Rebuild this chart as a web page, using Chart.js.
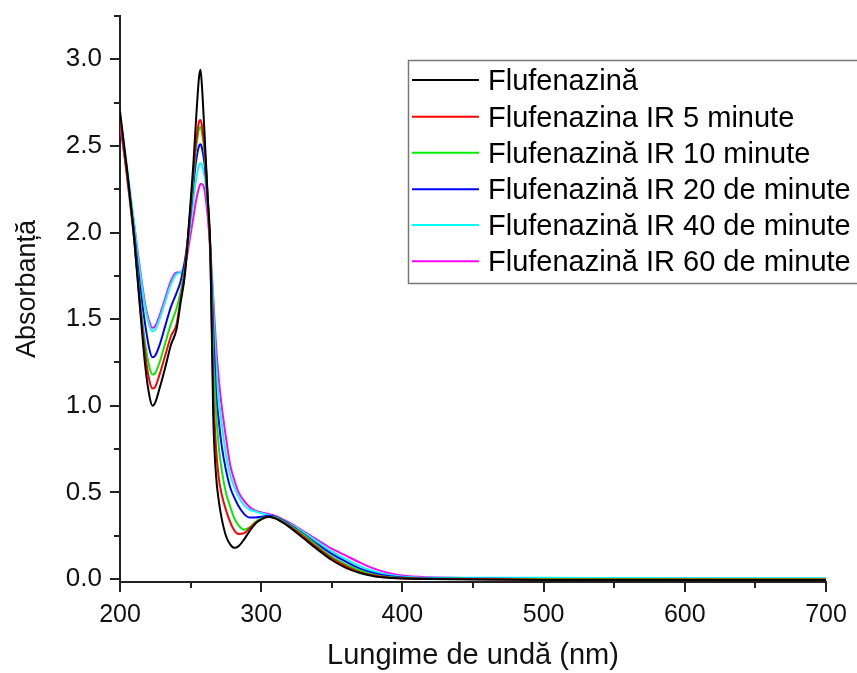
<!DOCTYPE html>
<html>
<head>
<meta charset="utf-8">
<script src="https://cdn.jsdelivr.net/npm/chart.js@4/dist/chart.umd.min.js"></script>
<style>
html,body{margin:0;padding:0;background:#fff;}
#wrap{width:857px;height:673px;position:relative;}
</style>
</head>
<body>
<div id="wrap"><canvas id="c" width="857" height="673"></canvas></div>
<script>
const wavelengths = [200,205,210,214,218,221,223,225,228,232,236,240,243,246,249,252,254,256,257,258,260,262,264,266,268,270,272,275,278,281,284,288,292,296,300,305,310,320,330,340,350,360,370,380,390,400,420,450,500,550,600,650,700];

const absFlufenazina = [2.70,2.36,1.97,1.58,1.22, 1.05,1.00,1.02,1.10,1.22, 1.35,1.44,1.60,1.76,2.07, 2.40,2.67,2.90,2.94,2.85, 2.55,2.22,1.90,0.95,0.60, 0.45,0.35,0.25,0.20,0.18, 0.19,0.23,0.28,0.32,0.345, 0.36,0.35,0.30,0.235,0.17, 0.11,0.065,0.035,0.016,0.007, 0.003,0.0,-0.003,-0.005,-0.005, -0.005,-0.005,-0.005];
const absIR5 = [2.66,2.32,1.96,1.60,1.29, 1.14,1.10,1.11,1.18,1.29, 1.40,1.47,1.62,1.78,2.05, 2.35,2.53,2.64,2.65,2.62, 2.48,2.22,1.85,1.10,0.76, 0.58,0.49,0.40,0.33,0.28, 0.26,0.265,0.295,0.325,0.345, 0.36,0.35,0.305,0.245,0.18, 0.12,0.075,0.04,0.02,0.009, 0.004,0.001,0.0,-0.002,-0.002, -0.002,-0.002,-0.002];
const absIR10 = [2.66,2.33,1.97,1.63,1.35, 1.22,1.18,1.19,1.25,1.36, 1.47,1.56,1.66,1.80,2.04, 2.32,2.49,2.60,2.61,2.58, 2.45,2.21,1.88,1.30,0.97, 0.76,0.63,0.50,0.42,0.35, 0.31,0.285,0.30,0.33,0.35, 0.36,0.355,0.31,0.255,0.19, 0.13,0.085,0.05,0.025,0.012, 0.006,0.002,0.001,0.0,0.0, 0.0,0.0,0.0];
const absIR20 = [2.67,2.35,2.00,1.70,1.46, 1.32,1.28,1.29,1.35,1.46, 1.57,1.65,1.72,1.84,2.03, 2.28,2.42,2.50,2.51,2.49, 2.39,2.19,1.90,1.45,1.08, 0.91,0.77,0.63,0.53,0.47, 0.42,0.375,0.355,0.355,0.36, 0.365,0.36,0.315,0.26,0.20, 0.145,0.10,0.06,0.033,0.017, 0.009,0.003,0.002,0.001,0.001, 0.0,0.0,0.0];
const absIR40 = [2.68,2.38,2.05,1.78,1.56, 1.46,1.43,1.44,1.50,1.60, 1.70,1.76,1.77,1.82,1.99, 2.19,2.31,2.39,2.40,2.39, 2.32,2.16,1.92,1.58,1.25, 1.04,0.90,0.72,0.60,0.53, 0.475,0.425,0.40,0.39,0.38, 0.37,0.36,0.32,0.27,0.215, 0.16,0.115,0.075,0.045,0.025, 0.014,0.008,0.007,0.007,0.006, 0.005,0.005,0.005];
const absIR60 = [2.62,2.34,2.05,1.80,1.58, 1.48,1.45,1.46,1.52,1.62, 1.72,1.77,1.77,1.80,1.94, 2.09,2.19,2.26,2.28,2.28, 2.24,2.10,1.90,1.63,1.35, 1.15,1.00,0.82,0.66,0.57, 0.50,0.45,0.415,0.395,0.385, 0.375,0.365,0.325,0.275,0.225, 0.175,0.135,0.095,0.06,0.035, 0.02,0.01,0.006,0.004,0.003, 0.003,0.002,0.002];

const seriesLabels = ["Flufenazină","Flufenazina IR 5 minute","Flufenazină IR 10 minute","Flufenazină IR 20 de minute","Flufenazină IR 40 de minute","Flufenazină IR 60 de minute"];
const seriesValues = [absFlufenazina, absIR5, absIR10, absIR20, absIR40, absIR60];
const xMajorTicks = [200,300,400,500,600,700];
const xMinorTicks = [250,350,450,550,650];
const yMajorTicks = [0.0,0.5,1.0,1.5,2.0,2.5,3.0];
const yMinorTicks = [0.25,0.75,1.25,1.75,2.25,2.75,3.25];
const xTitle = "Lungime de undă (nm)";
const yTitle = "Absorbanță";

const colors = ["#000000","#ff0000","#00ee00","#0000ff","#00ffff","#ff00ff"];
const FONT = "'Liberation Sans', Arial, sans-serif";
const AXIS = "#222222";

const datasets = seriesValues.map((vals, i) => ({
  label: seriesLabels[i],
  data: wavelengths.map((w, j) => ({x: w, y: vals[j]})),
  borderColor: colors[i],
  backgroundColor: colors[i],
  borderWidth: 2,
  pointRadius: 0,
  fill: false,
  cubicInterpolationMode: 'monotone'
}));

const extrasPlugin = {
  id: 'extras',
  afterDraw(chart) {
    const ctx = chart.ctx;
    const xs = chart.scales.x, ys = chart.scales.y;
    const ca = chart.chartArea;
    ctx.save();
    ctx.strokeStyle = AXIS;
    ctx.lineWidth = 2;
    xMinorTicks.forEach(v => {
      const px = Math.round(xs.getPixelForValue(v));
      ctx.beginPath(); ctx.moveTo(px, ca.bottom); ctx.lineTo(px, ca.bottom + 6); ctx.stroke();
    });
    yMinorTicks.forEach(v => {
      const py = Math.round(ys.getPixelForValue(v));
      ctx.beginPath(); ctx.moveTo(ca.left, py); ctx.lineTo(ca.left - 6, py); ctx.stroke();
    });
    ctx.save();
    ctx.translate(28, 289);
    ctx.rotate(-Math.PI / 2);
    ctx.fillStyle = '#111';
    ctx.font = "27px " + FONT;
    ctx.textAlign = 'center';
    ctx.textBaseline = 'middle';
    ctx.fillText(yTitle, 0, 0);
    ctx.restore();
    const bx = 408, by = 60, bw = 470, bh = 223;
    ctx.fillStyle = '#fff';
    ctx.fillRect(bx, by, bw, bh);
    ctx.strokeStyle = '#777';
    ctx.lineWidth = 1.5;
    ctx.strokeRect(bx + 0.5, by + 0.5, bw, bh);
    const rowY = [80, 116.7, 152.7, 189.3, 225, 261.3];
    chart.data.datasets.forEach((ds, i) => {
      const y = rowY[i];
      ctx.strokeStyle = ds.borderColor;
      ctx.lineWidth = 2;
      ctx.beginPath(); ctx.moveTo(412, y); ctx.lineTo(479, y); ctx.stroke();
      ctx.fillStyle = '#000';
      ctx.font = "29px " + FONT;
      ctx.textBaseline = 'alphabetic';
      ctx.textAlign = 'left';
      ctx.fillText(ds.label, 488, y + 10);
    });
    ctx.restore();
  }
};

new Chart(document.getElementById('c'), {
  type: 'line',
  data: { datasets },
  plugins: [extrasPlugin],
  options: {
    responsive: false,
    animation: false,
    events: [],
    layout: { padding: { top: 16, right: 31, left: 0, bottom: 0 } },
    plugins: { legend: { display: false }, tooltip: { enabled: false } },
    scales: {
      x: {
        type: 'linear',
        min: 200, max: 700,
        afterFit(s) { s.height = 91; s.paddingLeft = 0; s.paddingRight = 0; },
        afterBuildTicks(s) { s.ticks = xMajorTicks.map(v => ({value: v})); },
        border: { display: true, color: AXIS, width: 2 },
        grid: { display: true, drawOnChartArea: false, drawTicks: true, tickLength: 10, color: AXIS, lineWidth: 2 },
        ticks: { color: '#111', font: { family: FONT, size: 25 }, padding: 8, maxRotation: 0, callback: v => String(v) },
        title: { display: true, text: xTitle, color: '#111', font: { family: FONT, size: 29 }, padding: { top: 0, bottom: 0 } }
      },
      y: {
        type: 'linear',
        min: -0.017, max: 3.25,
        afterFit(s) { s.width = 120; s.paddingTop = 0; s.paddingBottom = 0; },
        afterBuildTicks(s) { s.ticks = yMajorTicks.map(v => ({value: v})); },
        border: { display: true, color: AXIS, width: 2 },
        grid: { display: true, drawOnChartArea: false, drawTicks: true, tickLength: 10, color: AXIS, lineWidth: 2 },
        ticks: { color: '#111', font: { family: FONT, size: 26 }, padding: 8, callback: v => Number(v).toFixed(1) },
        title: { display: false }
      }
    }
  }
});
</script>
</body>
</html>
